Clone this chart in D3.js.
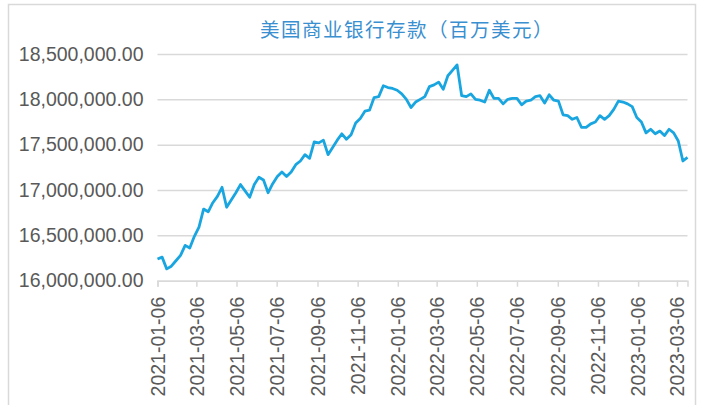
<!DOCTYPE html>
<html>
<head>
<meta charset="utf-8">
<script src="https://cdn.jsdelivr.net/npm/d3@7"></script>
<style>
  html, body { margin: 0; padding: 0; background: #fff; }
  svg { display: block; }
</style>
</head>
<body>
<div id="chart"></div>
<script>
const title = "美国商业银行存款（百万美元）";
const startDate = "2021-01-06";   // weekly series, every Wednesday
const deposits = [
  16.24, 16.26, 16.13, 16.16, 16.22, 16.28, 16.39, 16.36, 16.49, 16.59,
  16.79, 16.76, 16.86, 16.93, 17.03, 16.81, 16.89, 16.97, 17.06, 16.99,
  16.92, 17.06, 17.14, 17.11, 16.97, 17.07, 17.15, 17.20, 17.15, 17.20,
  17.28, 17.32, 17.39, 17.35, 17.53, 17.52, 17.55, 17.39, 17.47, 17.55,
  17.62, 17.56, 17.61, 17.74, 17.79, 17.87, 17.88, 18.02, 18.03, 18.15,
  18.13, 18.12, 18.10, 18.06, 18.00, 17.91, 17.97, 18.00, 18.03, 18.14,
  18.16, 18.19, 18.11, 18.26, 18.32, 18.38, 18.04, 18.03, 18.06, 18.00,
  17.99, 17.97, 18.10, 18.01, 18.01, 17.95, 18.00, 18.01, 18.01, 17.94,
  17.98, 17.99, 18.03, 18.04, 17.96, 18.05, 17.99, 17.98, 17.83, 17.82,
  17.78, 17.80, 17.69, 17.69, 17.73, 17.75, 17.82, 17.78, 17.82, 17.89,
  17.98, 17.97, 17.95, 17.92, 17.80, 17.75, 17.63, 17.67, 17.62, 17.65,
  17.60, 17.67, 17.63, 17.54, 17.32, 17.36
].map(v => v * 1e6);
const yTicks = [16000000, 16500000, 17000000, 17500000, 18000000, 18500000];
const xTickLabels = [
  "2021-01-06", "2021-03-06", "2021-05-06", "2021-07-06", "2021-09-06",
  "2021-11-06", "2022-01-06", "2022-03-06", "2022-05-06", "2022-07-06",
  "2022-09-06", "2022-11-06", "2023-01-06", "2023-03-06"
];

const width = 703;
const height = 405;
const parse = d3.timeParse("%Y-%m-%d");
const fmtDay = d3.timeFormat("%Y-%m-%d");

const t0 = parse(startDate);
const data = deposits.map((v, i) => ({ date: d3.timeDay.offset(t0, i * 7), value: v }));

const x = d3.scaleTime()
  .domain([t0, data[data.length - 1].date])
  .range([157.5, 687.5]);

const y = d3.scaleLinear()
  .domain([16000000, 18500000])
  .range([280.7, 54]);

const svg = d3.select("#chart")
  .append("svg")
  .attr("width", width)
  .attr("height", height);

// outer frame
svg.append("rect")
  .attr("x", 8.5)
  .attr("y", 4.5)
  .attr("width", 687)
  .attr("height", 420)
  .attr("fill", "none")
  .attr("stroke", "#d9d9d9")
  .attr("stroke-width", 1.5);

svg.append("text")
  .attr("x", 407)
  .attr("y", 37)
  .attr("text-anchor", "middle")
  .attr("font-family", "'Noto Sans CJK SC', sans-serif")
  .attr("font-size", 19.5)
  .attr("letter-spacing", 1.5)
  .attr("fill", "#3a8fd0")
  .text(title);

// horizontal grid + y labels
const yAxis = svg.append("g")
  .attr("transform", "translate(157.5,0)")
  .call(d3.axisLeft(y)
    .tickValues(yTicks)
    .tickSize(-(687.5 - 157.5))
    .tickPadding(14)
    .tickFormat(d3.format(",.2f")));

yAxis.select(".domain").remove();
yAxis.selectAll(".tick line")
  .attr("stroke", "#d9d9d9")
  .attr("stroke-width", 1.5);
yAxis.selectAll(".tick text")
  .attr("font-family", "'Liberation Sans', Arial, sans-serif")
  .attr("font-size", 19.5)
  .attr("fill", "#595959");

// x axis
const xAxis = svg.append("g")
  .attr("transform", "translate(0,280.7)")
  .call(d3.axisBottom(x)
    .tickValues(xTickLabels.map(parse))
    .tickSize(6)
    .tickPadding(8)
    .tickFormat(fmtDay));

xAxis.select(".domain")
  .attr("stroke", "#d9d9d9")
  .attr("stroke-width", 1.5);
xAxis.selectAll(".tick line")
  .attr("stroke", "#d9d9d9")
  .attr("stroke-width", 1.5);
xAxis.selectAll(".tick text")
  .attr("font-family", "'Liberation Sans', Arial, sans-serif")
  .attr("font-size", 19.5)
  .attr("fill", "#595959")
  .attr("text-anchor", "end")
  .attr("dx", 0)
  .attr("dy", "0.35em")
  .attr("transform", "translate(0,16) rotate(-90)")
  .attr("x", 0)
  .attr("y", 0);

const line = d3.line()
  .x(d => x(d.date))
  .y(d => y(d.value));

svg.append("path")
  .datum(data)
  .attr("fill", "none")
  .attr("stroke", "#19a6e0")
  .attr("stroke-width", 2.8)
  .attr("stroke-linejoin", "round")
  .attr("d", line);
</script>
</body>
</html>
